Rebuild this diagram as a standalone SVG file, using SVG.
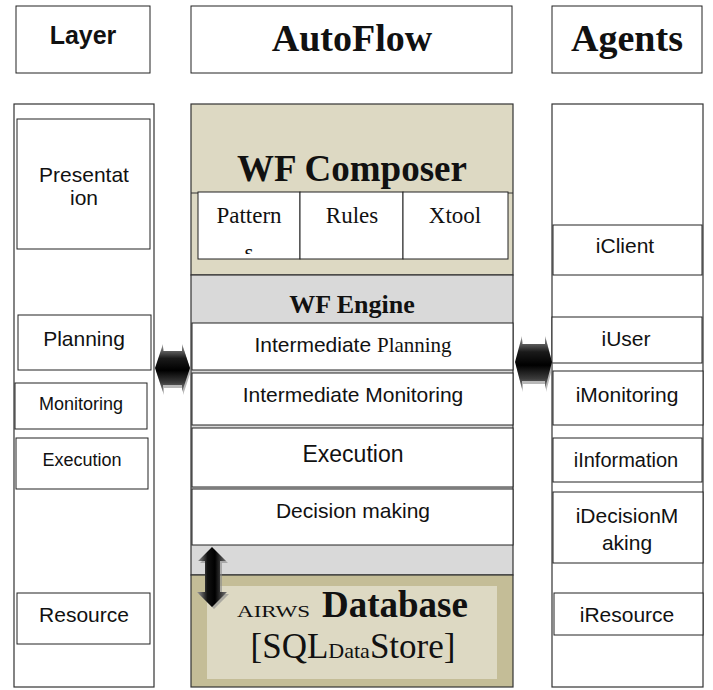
<svg xmlns="http://www.w3.org/2000/svg" width="713" height="690" viewBox="0 0 713 690">
  <style>
    .box { fill: #ffffff; stroke: #222222; stroke-width: 1; }
    .col { fill: #ffffff; stroke: #333333; stroke-width: 1.2; }
    .sans { font-family: "Liberation Sans", Arial, sans-serif; fill: #111111; }
    .serif { font-family: "Liberation Serif", "Times New Roman", serif; fill: #111111; }
    .bold { font-weight: bold; }
    .mid { text-anchor: middle; }
  </style>
  <defs>
    <linearGradient id="gradH" x1="0" y1="0" x2="0" y2="1">
      <stop offset="0" stop-color="#a0a0a0"/>
      <stop offset="0.3" stop-color="#1a1a1a"/>
      <stop offset="0.55" stop-color="#000000"/>
      <stop offset="0.8" stop-color="#3a3a3a"/>
      <stop offset="1" stop-color="#8a8a8a"/>
    </linearGradient>
    <linearGradient id="gradV" x1="0" y1="0" x2="1" y2="0">
      <stop offset="0" stop-color="#9a9a9a"/>
      <stop offset="0.35" stop-color="#111111"/>
      <stop offset="0.6" stop-color="#000000"/>
      <stop offset="1" stop-color="#777777"/>
    </linearGradient>
    <clipPath id="patClip">
      <rect x="198" y="192" width="102" height="62"/>
    </clipPath>
  </defs>

  <!-- column headers -->
  <g id="hdr-layer">
    <rect class="box" x="16" y="6" width="134" height="67"/>
    <text class="sans bold mid" x="83" y="44" font-size="25">Layer</text>
  </g>
  <g id="hdr-autoflow">
    <rect class="box" x="191" y="6" width="321" height="67"/>
    <text class="serif bold mid" x="352" y="51" font-size="38">AutoFlow</text>
  </g>
  <g id="hdr-agents">
    <rect class="box" x="552" y="6" width="150" height="67"/>
    <text class="serif bold mid" x="627" y="51" font-size="38">Agents</text>
  </g>

  <!-- layer column -->
  <g id="layer-col">
    <rect class="col" x="14" y="104" width="140" height="583"/>
  </g>
  <g id="layer-presentation">
    <rect class="box" x="17" y="119" width="133" height="130"/>
    <text class="sans mid" x="84" y="182" font-size="21">Presentat</text>
    <text class="sans mid" x="84" y="205" font-size="21">ion</text>
  </g>
  <g id="layer-planning">
    <rect class="box" x="18" y="315" width="133" height="55"/>
    <text class="sans mid" x="84" y="346" font-size="21">Planning</text>
  </g>
  <g id="layer-monitoring">
    <rect class="box" x="15" y="383" width="132" height="46" stroke="#666666"/>
    <text class="sans mid" x="81" y="410" font-size="18">Monitoring</text>
  </g>
  <g id="layer-execution">
    <rect class="box" x="16" y="438" width="132" height="51"/>
    <text class="sans mid" x="82" y="466" font-size="18">Execution</text>
  </g>
  <g id="layer-resource">
    <rect class="box" x="17" y="593" width="133" height="51"/>
    <text class="sans mid" x="84" y="622" font-size="21">Resource</text>
  </g>

  <!-- AutoFlow column -->
  <g id="af-composer">
    <rect x="191" y="104" width="322" height="171" fill="#ddd9c3" stroke="#333333" stroke-width="1.2"/>
    <line x1="191" y1="193" x2="513" y2="193" stroke="#333333" stroke-width="1"/>
    <text class="serif bold mid" x="352" y="181" font-size="37">WF Composer</text>
  </g>
  <g id="af-patterns">
    <rect class="box" x="198" y="192" width="102" height="67"/>
    <text class="serif mid" x="249" y="223" font-size="23">Pattern</text>
    <text class="serif mid" x="249" y="260" font-size="23" clip-path="url(#patClip)">s</text>
  </g>
  <g id="af-rules">
    <rect class="box" x="300" y="192" width="103" height="67"/>
    <text class="serif mid" x="352" y="223" font-size="23">Rules</text>
  </g>
  <g id="af-xtool">
    <rect class="box" x="403" y="192" width="105" height="67"/>
    <text class="serif mid" x="455" y="223" font-size="23">Xtool</text>
  </g>
  <g id="af-engine">
    <rect x="191" y="275" width="322" height="300" fill="#d9d9d9" stroke="#333333" stroke-width="1.2"/>
    <text class="serif bold mid" x="352" y="313" font-size="26">WF Engine</text>
  </g>
  <g id="af-int-planning">
    <rect class="box" x="192" y="323" width="321" height="47"/>
    <text class="mid" x="353" y="352" font-size="21"><tspan class="sans">Intermediate </tspan><tspan class="serif">Planning</tspan></text>
  </g>
  <g id="af-int-monitoring">
    <rect class="box" x="192" y="373" width="321" height="52"/>
    <text class="sans mid" x="353" y="402" font-size="21">Intermediate Monitoring</text>
  </g>
  <g id="af-execution">
    <rect class="box" x="192" y="428" width="321" height="59"/>
    <text class="sans mid" x="353" y="462" font-size="23">Execution</text>
  </g>
  <g id="af-decision">
    <rect class="box" x="192" y="489" width="321" height="56"/>
    <text class="sans mid" x="353" y="518" font-size="21">Decision making</text>
  </g>
  <g id="af-database">
    <rect x="191" y="575" width="322" height="112" fill="#c4bd97" stroke="#333333" stroke-width="1.2"/>
    <rect x="207" y="586" width="290" height="93" fill="#ddd9c3"/>
    <text class="serif" x="237" y="617" font-size="17" textLength="73" lengthAdjust="spacingAndGlyphs">AIRWS</text>
    <text class="serif bold" x="322" y="617" font-size="37">Database</text>
    <text class="serif mid" x="353" y="658" font-size="35">[SQL<tspan font-size="22">Data</tspan>Store]</text>
  </g>

  <!-- agents column -->
  <g id="agents-col">
    <rect class="col" x="552" y="104" width="151" height="583"/>
  </g>
  <g id="ag-iclient">
    <rect class="box" x="553" y="225" width="149" height="50"/>
    <text class="sans mid" x="625" y="253" font-size="21">iClient</text>
  </g>
  <g id="ag-iuser">
    <rect class="box" x="552" y="317" width="150" height="46"/>
    <text class="sans mid" x="626" y="346" font-size="21">iUser</text>
  </g>
  <g id="ag-imonitoring">
    <rect class="box" x="553" y="371" width="150" height="54"/>
    <text class="sans mid" x="627" y="402" font-size="21">iMonitoring</text>
  </g>
  <g id="ag-iinformation">
    <rect class="box" x="553" y="438" width="149" height="44"/>
    <text class="sans mid" x="626" y="467" font-size="20">iInformation</text>
  </g>
  <g id="ag-idecision">
    <rect class="box" x="553" y="492" width="150" height="71"/>
    <text class="sans mid" x="627" y="523" font-size="21">iDecisionM</text>
    <text class="sans mid" x="627" y="550" font-size="21">aking</text>
  </g>
  <g id="ag-iresource">
    <rect class="box" x="554" y="593" width="149" height="42"/>
    <text class="sans mid" x="627" y="622" font-size="21">iResource</text>
  </g>

  <!-- connectors: block double arrows -->
  <g id="connectors">
    <polygon points="156,371 164,347 164,354 183,354 183,347 191,371 183,395 183,388 164,388 164,395" fill="#888888" opacity="0.6"/>
    <polygon points="155,368 163,344 163,351 182,351 182,344 190,368 182,392 182,385 163,385 163,392" fill="url(#gradH)"/>
    <polygon points="516,365 523,339 523,347 546,347 546,339 553,365 546,392 546,384 523,384 523,392" fill="#888888" opacity="0.6"/>
    <polygon points="515,362 522,336 522,344 545,344 545,336 552,362 545,389 545,381 522,381 522,389" fill="url(#gradH)"/>
    <polygon points="214,549 228,563 222,563 222,594 229,594 214,609 199,594 207,594 207,563 200,563" fill="#888888" opacity="0.6"/>
    <polygon points="212,547 226,561 220,561 220,592 227,592 212,607 197,592 205,592 205,561 198,561" fill="url(#gradV)"/>
  </g>
</svg>
